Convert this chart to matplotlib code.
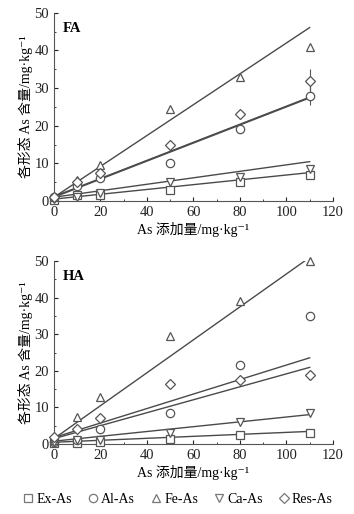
import matplotlib
matplotlib.use("Agg")
import matplotlib.pyplot as plt
import numpy as np

plt.rcParams['font.family'] = ['Liberation Serif', 'Noto Sans CJK SC', 'DejaVu Sans']

x = [0, 10, 20, 50, 80, 110]
series = ['Ex-As', 'Al-As', 'Fe-As', 'Ca-As', 'Res-As']
markers = ['s', 'o', '^', 'v', 'D']

# FA panel values
fa_ex = [0.3, 1.5, 1.5, 3.0, 5.0, 7.0]
fa_al = [1.0, 4.0, 6.0, 10.0, 19.0, 28.0]
fa_fe = [1.0, 5.5, 9.5, 24.5, 33.0, 41.0]
fa_ca = [0.5, 1.0, 2.0, 5.0, 6.5, 8.5]
fa_res = [1.0, 5.0, 7.5, 15.0, 23.0, 32.0]
fa_err_al = [0, 0, 0, 0, 1.0, 2.5]
fa_err_res = [0, 0, 0, 0, 1.0, 3.0]
# FA fitted lines (intercept, slope)
fa_int = [0.5, 1.0, 1.0, 1.0, 1.2]
fa_slope = [0.064, 0.24, 0.41, 0.086, 0.24]

# HA panel values
ha_ex = [0.3, 0.3, 0.5, 1.5, 2.5, 3.0]
ha_al = [0.5, 1.0, 4.0, 8.5, 21.5, 35.0]
ha_fe = [1.0, 7.5, 13.0, 29.5, 39.0, 50.0]
ha_ca = [0.5, 1.0, 1.0, 3.0, 6.0, 8.5]
ha_res = [2.0, 4.0, 7.0, 16.5, 17.5, 19.0]
ha_int = [0.5, 1.8, 1.5, 0.8, 1.5]
ha_slope = [0.027, 0.198, 0.45, 0.066, 0.177]

mcol = '#555555'
lcol = '#4a4a4a'

fig = plt.figure(figsize=(3.54, 5.14), dpi=100)
ax1 = fig.add_axes([0.1525, 0.609, 0.788, 0.366])
ax2 = fig.add_axes([0.1525, 0.136, 0.788, 0.356])

def draw(ax, vals, errs, ints, slopes, label):
    xl = np.array([0, 110])
    for b, m in zip(ints, slopes):
        ax.plot(xl, b + m * xl, color=lcol, lw=1.0, zorder=2)
    for v, e, mk in zip(vals, errs, markers):
        if e is not None:
            ax.errorbar(x, v, yerr=e, fmt='none', ecolor=mcol, elinewidth=0.8, capsize=0, zorder=3)
        ax.plot(x, v, linestyle='none', marker=mk, markersize=6 if mk != 'D' else 5,
                markerfacecolor='white', markeredgecolor=mcol, markeredgewidth=0.9,
                clip_on=False, zorder=4)
    ax.set_xlim(0, 120)
    ax.set_ylim(0, 50)
    ax.set_xticks([0, 20, 40, 60, 80, 100, 120])
    ax.set_yticks([0, 10, 20, 30, 40, 50])
    ax.set_xticks(np.arange(0, 121, 10), minor=True)
    ax.set_yticks(np.arange(0, 51, 5), minor=True)
    ax.tick_params(which='both', direction='in', labelsize=10.5, colors='#222222')
    ax.tick_params(which='major', length=3)
    ax.tick_params(which='minor', length=1.5)
    for s in ['top', 'right']:
        ax.spines[s].set_visible(False)
    for s in ['left', 'bottom']:
        ax.spines[s].set_color('#555555')
        ax.spines[s].set_linewidth(0.8)
    ax.set_xlabel('As 添加量/mg·kg⁻¹', fontsize=10, labelpad=2)
    ax.set_ylabel('各形态 As 含量/mg·kg⁻¹', fontsize=10, labelpad=1)
    ax.text(0.03, 0.95, label, transform=ax.transAxes, fontsize=10.5,
            fontweight='bold', va='top', ha='left')

draw(ax1, [fa_ex, fa_al, fa_fe, fa_ca, fa_res], [None, fa_err_al, None, None, fa_err_res],
     fa_int, fa_slope, 'FA')
draw(ax2, [ha_ex, ha_al, ha_fe, ha_ca, ha_res], [None] * 5, ha_int, ha_slope, 'HA')

handles = [plt.Line2D([], [], linestyle='none', marker=mk, markersize=6 if mk != 'D' else 5,
                      markerfacecolor='white', markeredgecolor='#777777', markeredgewidth=0.9)
           for mk in markers]
fig.legend(handles, series, loc='center', bbox_to_anchor=(0.5, 0.028), ncol=5, frameon=False,
           fontsize=10, handletextpad=0.1, columnspacing=1.0, handlelength=1.0)

fig.savefig('out.png', dpi=100)
